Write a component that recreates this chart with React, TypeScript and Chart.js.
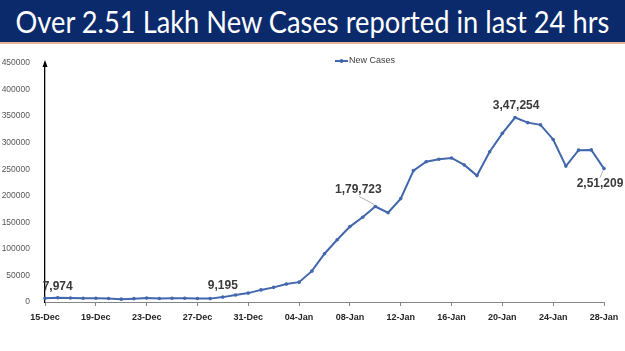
import React, { useEffect, useRef } from "react";
import { Chart, registerables } from "chart.js";
Chart.register(...registerables);

const titleText = "Over 2.51 Lakh New Cases reported in last 24 hrs";
const seriesName = "New Cases";

const dates = [
  "15-Dec", "16-Dec", "17-Dec", "18-Dec", "19-Dec", "20-Dec", "21-Dec", "22-Dec", "23-Dec",
  "24-Dec", "25-Dec", "26-Dec", "27-Dec", "28-Dec", "29-Dec", "30-Dec", "31-Dec",
  "01-Jan", "02-Jan", "03-Jan", "04-Jan", "05-Jan", "06-Jan", "07-Jan", "08-Jan", "09-Jan",
  "10-Jan", "11-Jan", "12-Jan", "13-Jan", "14-Jan", "15-Jan", "16-Jan", "17-Jan", "18-Jan",
  "19-Jan", "20-Jan", "21-Jan", "22-Jan", "23-Jan", "24-Jan", "25-Jan", "26-Jan", "27-Jan", "28-Jan",
];

const newCases = [
  6984, 7974, 7447, 7145, 7081, 6563, 5326, 6317, 7495,
  6650, 7189, 6987, 6531, 6358, 9195, 13154, 16764,
  22775, 27553, 33750, 37379, 58097, 90928, 117100, 141986, 159632,
  179723, 168063, 194720, 247417, 264202, 268833, 271202, 258089, 238018,
  282970, 317532, 347254, 337704, 333533, 306064, 255874, 285914, 286384, 251209,
];

const yMax = 450000;
const yStep = 50000;

// callouts: which point, text, and label offset from the point (style)
const calloutIndex = [1, 14, 26, 37, 44];
const calloutText = ["7,974", "9,195", "1,79,723", "3,47,254", "2,51,209"];
const calloutDx = [0, 0, -17, 1, -4];
const calloutDy = [-11, -11, -17, -12, 15];
const calloutLeader = [false, false, true, false, true];

const LINE_COLOR = "#4267ad";

export default function App() {
  const ref = useRef<HTMLCanvasElement>(null);

  useEffect(() => {
    const canvas = ref.current;
    if (!canvas) return;

    const extras = {
      id: "extras",
      afterDraw(chart: any) {
        const ctx = chart.ctx;
        const area = chart.chartArea;
        // y-axis arrow head
        ctx.save();
        ctx.fillStyle = "#000";
        ctx.beginPath();
        ctx.moveTo(area.left, area.top - 3);
        ctx.lineTo(area.left - 2.5, area.top + 4);
        ctx.lineTo(area.left + 2.5, area.top + 4);
        ctx.closePath();
        ctx.fill();
        ctx.restore();

        // legend
        ctx.save();
        const lx = 335;
        const ly = 61;
        ctx.strokeStyle = LINE_COLOR;
        ctx.lineWidth = 2;
        ctx.beginPath();
        ctx.moveTo(lx, ly);
        ctx.lineTo(lx + 13, ly);
        ctx.stroke();
        ctx.fillStyle = LINE_COLOR;
        ctx.beginPath();
        ctx.arc(lx + 6.5, ly, 2, 0, Math.PI * 2);
        ctx.fill();
        ctx.fillStyle = "#404040";
        ctx.font = "9px 'Liberation Sans', Arial, sans-serif";
        ctx.textBaseline = "middle";
        ctx.textAlign = "left";
        ctx.fillText(seriesName, lx + 14, ly);
        ctx.restore();

        // callouts
        const meta = chart.getDatasetMeta(0);
        ctx.save();
        ctx.font = "bold 12px 'Liberation Sans', Arial, sans-serif";
        ctx.textAlign = "center";
        ctx.textBaseline = "middle";
        calloutIndex.forEach((idx, i) => {
          const pt = meta.data[idx];
          if (!pt) return;
          const tx = pt.x + calloutDx[i];
          const ty = pt.y + calloutDy[i];
          if (calloutLeader[i]) {
            ctx.strokeStyle = "#b0b0b0";
            ctx.lineWidth = 1;
            ctx.beginPath();
            ctx.moveTo(pt.x - 1, pt.y + (calloutDy[i] > 0 ? 2 : -2));
            ctx.lineTo(tx + (calloutDx[i] < -8 ? 1 : 0), ty + (calloutDy[i] > 0 ? -6 : 7));
            ctx.stroke();
          }
          ctx.fillStyle = "#3a3a3a";
          ctx.fillText(calloutText[i], tx, ty);
        });
        ctx.restore();
      },
    };

    const chart = new Chart(canvas, {
      type: "line",
      data: {
        labels: dates,
        datasets: [
          {
            label: seriesName,
            data: newCases,
            borderColor: LINE_COLOR,
            backgroundColor: LINE_COLOR,
            borderWidth: 2,
            pointRadius: 1.8,
            pointBackgroundColor: LINE_COLOR,
            pointBorderWidth: 0,
            tension: 0,
          },
        ],
      },
      options: {
        responsive: false,
        animation: false,
        devicePixelRatio: 1,
        layout: { padding: { top: 63, right: 21, bottom: 0, left: 0 } },
        plugins: {
          legend: { display: false },
          tooltip: { enabled: false },
        },
        scales: {
          x: {
            type: "category",
            offset: false,
            afterFit: (s: any) => {
              s.height = 49;
            },
            grid: {
              display: true,
              drawOnChartArea: false,
              drawTicks: true,
              tickLength: 4,
              color: (c: any) => (c.index % 4 === 0 ? "#868686" : "rgba(0,0,0,0)"),
            },
            border: { display: true, color: "#868686", width: 1 },
            ticks: {
              autoSkip: false,
              maxRotation: 0,
              minRotation: 0,
              padding: 6,
              color: "#262626",
              font: { family: "'Liberation Sans', Arial, sans-serif", size: 9, weight: "bold" },
              callback: (_v: any, i: number) => (i % 4 === 0 ? dates[i] : ""),
            },
          },
          y: {
            min: 0,
            max: yMax,
            afterFit: (s: any) => {
              s.width = 45;
            },
            grid: { display: false },
            border: { display: true, color: "#000", width: 1.3 },
            ticks: {
              stepSize: yStep,
              padding: 7,
              color: "#595959",
              font: { family: "'Liberation Sans', Arial, sans-serif", size: 8.5 },
              callback: (v: any) => String(v),
            },
          },
        },
      },
      plugins: [extras],
    } as any);

    return () => chart.destroy();
  }, []);

  return (
    <div style={{ position: "absolute", top: 0, left: 0, width: 625, height: 351, background: "#fff", overflow: "hidden" }}>
      <canvas ref={ref} width={625} height={351} style={{ position: "absolute", top: 0, left: 0, width: 625, height: 351 }} />
      <div
        style={{
          position: "absolute",
          top: 0,
          left: 0,
          width: 625,
          height: 42,
          background: "#0b2a6c",
          overflow: "hidden",
        }}
      >
        <div
          style={{
            position: "absolute",
            top: 0,
            left: -100,
            width: 825,
            color: "#fff",
            fontFamily: "Lato, 'Open Sans', sans-serif",
            fontSize: 31,
            lineHeight: "42px",
            textAlign: "center",
            whiteSpace: "nowrap",
            transform: "scaleX(0.88)",
            transformOrigin: "412px 50%",
          }}
        >
          {titleText}
        </div>
      </div>
      <div style={{ position: "absolute", top: 42, left: 0, width: 625, height: 2, background: "#e9b49a" }} />
    </div>
  );
}
